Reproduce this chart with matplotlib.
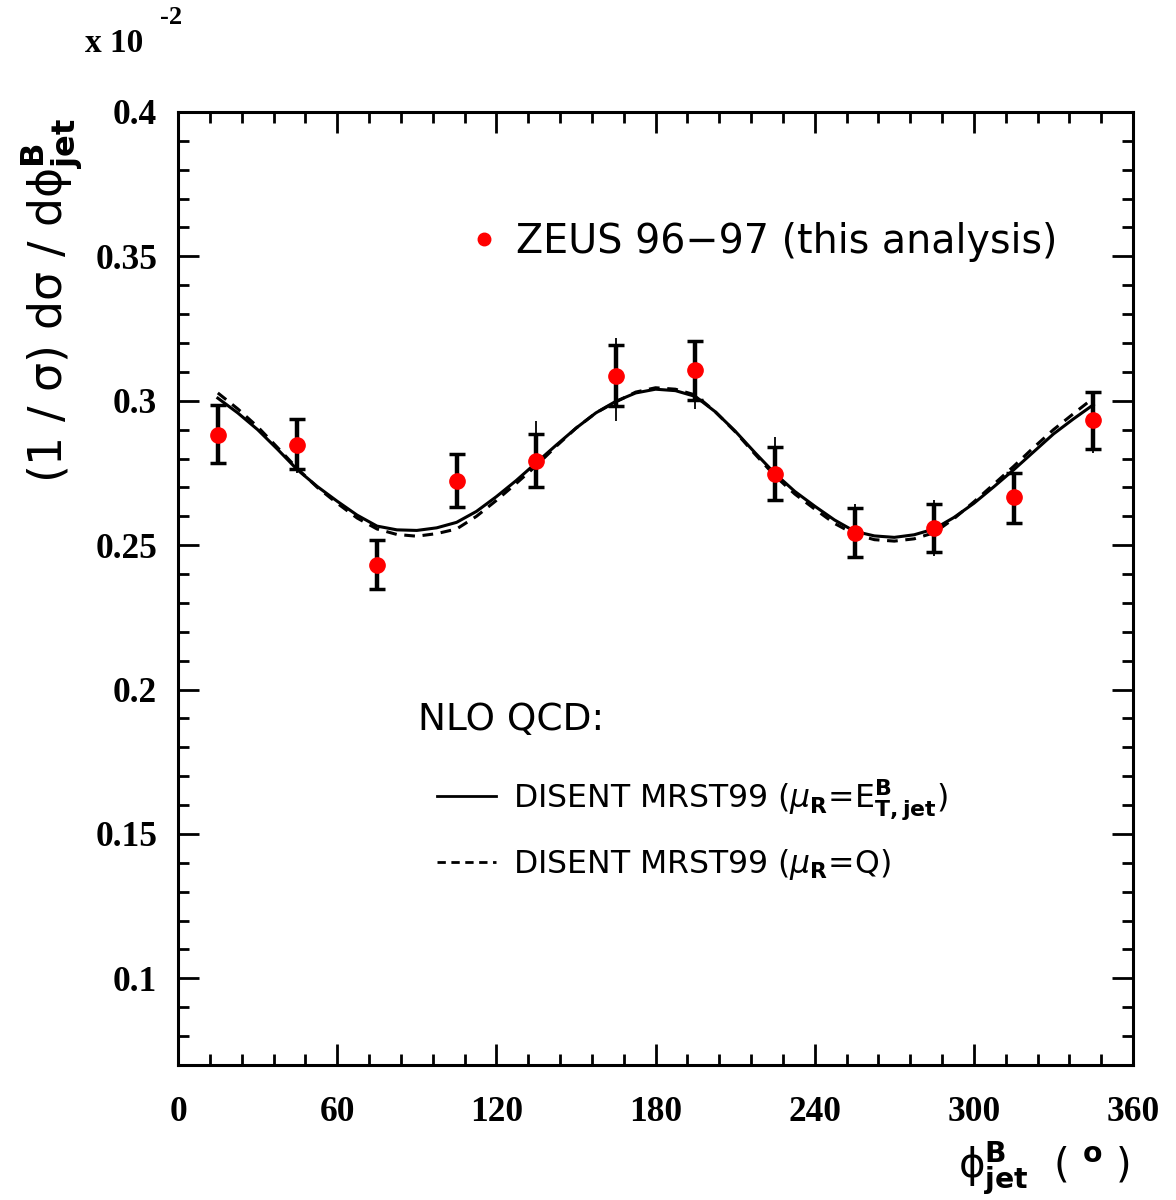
import numpy as np
import matplotlib
matplotlib.use("Agg")
import matplotlib.pyplot as plt
from matplotlib.lines import Line2D
from matplotlib.ticker import MultipleLocator, FormatStrFormatter

# ZEUS 96-97 data points (x 10^-2)
phi_data = [15, 45, 75, 105, 135, 165, 195, 225, 255, 285, 315, 345]
xsec = [0.2882, 0.2848, 0.2433, 0.2723, 0.2793, 0.3086,
        0.3107, 0.2748, 0.2543, 0.2561, 0.2668, 0.2934]
stat_up = [0.0104, 0.0090, 0.0086, 0.0092, 0.0093, 0.0107,
           0.0100, 0.0093, 0.0086, 0.0083, 0.0083, 0.0097]
stat_dn = [0.0097, 0.0086, 0.0086, 0.0092, 0.0090, 0.0104,
           0.0104, 0.0093, 0.0083, 0.0086, 0.0090, 0.0100]
tot_up = [0.0104, 0.0090, 0.0086, 0.0092, 0.0138, 0.0131,
          0.0100, 0.0128, 0.0100, 0.0097, 0.0083, 0.0097]
tot_dn = [0.0097, 0.0097, 0.0086, 0.0092, 0.0090, 0.0156,
          0.0135, 0.0093, 0.0083, 0.0100, 0.0090, 0.0114]

# NLO QCD (DISENT MRST99), read every 7.5 degrees
phi_nlo = [15, 22.5, 30, 37.5, 45, 52.5, 60, 67.5, 75, 82.5, 90, 97.5,
           105, 112.5, 120, 127.5, 135, 142.5, 150, 157.5, 165, 172.5, 180,
           187.5, 195, 202.5, 210, 217.5, 225, 232.5, 240, 247.5, 255, 262.5,
           270, 277.5, 285, 292.5, 300, 307.5, 315, 322.5, 330, 337.5, 345]
nlo_et = [0.3009, 0.2958, 0.2900, 0.2832, 0.2761, 0.2703, 0.2652, 0.2604,
          0.2566, 0.2553, 0.2551, 0.2560, 0.2579, 0.2617, 0.2668, 0.2724,
          0.2785, 0.2846, 0.2905, 0.2958, 0.2998, 0.3027, 0.3040, 0.3035,
          0.3015, 0.2962, 0.2895, 0.2820, 0.2748, 0.2686, 0.2635, 0.2587,
          0.2548, 0.2532, 0.2527, 0.2536, 0.2556, 0.2596, 0.2645, 0.2702,
          0.2761, 0.2823, 0.2885, 0.2937, 0.2986]
nlo_q = [0.3027, 0.2972, 0.2910, 0.2838, 0.2765, 0.2700, 0.2645, 0.2594,
         0.2556, 0.2537, 0.2531, 0.2540, 0.2556, 0.2600, 0.2655, 0.2714,
         0.2775, 0.2842, 0.2905, 0.2958, 0.2996, 0.3030, 0.3045, 0.3040,
         0.3020, 0.2962, 0.2893, 0.2815, 0.2740, 0.2677, 0.2625, 0.2575,
         0.2538, 0.2519, 0.2514, 0.2522, 0.2543, 0.2592, 0.2650, 0.2711,
         0.2773, 0.2838, 0.2900, 0.2955, 0.3009]

RED = "#FF0000"
SERIF = "Liberation Serif"
SANS = "DejaVu Sans"

fig = plt.figure(figsize=(11.76, 12), dpi=100)
ax = fig.add_axes([0.1514, 0.1125, 0.8121, 0.7942])

# curves
ax.plot(phi_nlo, nlo_et, color="black", lw=2.2, solid_joinstyle="round")
ax.plot(phi_nlo, nlo_q, color="black", lw=2.2, ls=(0, (3.5, 2.5)))

# total errors (thin), stat errors (thick with caps)
ax.errorbar(phi_data, xsec, yerr=[tot_dn, tot_up], fmt="none",
            ecolor="black", elinewidth=1.3, capsize=0, zorder=3)
ax.errorbar(phi_data, xsec, yerr=[stat_dn, stat_up], fmt="none",
            ecolor="black", elinewidth=3.2, capsize=5.5, capthick=2.5, zorder=4)
ax.plot(phi_data, xsec, "o", color=RED, ms=11, mec=RED, zorder=5)

ax.set_xlim(0, 360)
ax.set_ylim(0.07, 0.4)
ax.xaxis.set_major_locator(MultipleLocator(60))
ax.xaxis.set_minor_locator(MultipleLocator(12))
ax.yaxis.set_major_locator(MultipleLocator(0.05))
ax.yaxis.set_minor_locator(MultipleLocator(0.01))
ax.yaxis.set_major_formatter(FormatStrFormatter("%g"))
ax.tick_params(which="both", direction="in", top=True, right=True, width=2)
ax.tick_params(which="major", length=15)
ax.tick_params(which="minor", length=8)
ax.tick_params(axis="y", which="major", pad=15)
ax.tick_params(axis="x", which="major", pad=22)
for s in ax.spines.values():
    s.set_linewidth(2.2)
for lab in ax.get_xticklabels() + ax.get_yticklabels():
    lab.set_fontfamily(SERIF)
    lab.set_fontweight("bold")
    lab.set_fontsize(25.5)

# legends
h_data = Line2D([], [], ls="none", marker="o", color=RED, ms=9)
leg1 = ax.legend([h_data], ["ZEUS 96\u221297 (this analysis)"],
                 loc="center left", bbox_to_anchor=(0.300, 0.8636),
                 frameon=False, borderpad=0, borderaxespad=0,
                 handlelength=1.0, handletextpad=0.3,
                 prop={"family": SANS, "size": 28.5})
ax.add_artist(leg1)

ax.text(0.2513, 0.362, "NLO QCD:", transform=ax.transAxes, ha="left",
        va="center", family=SANS, size=27)
h_et = Line2D([], [], color="black", lw=2)
h_q = Line2D([], [], color="black", lw=2, ls=(0, (3, 2)))
leg2 = ax.legend([h_et, h_q],
                 [r"DISENT MRST99 ($\mu_{\mathbf{R}}$=E$^{\mathbf{B}}_{\mathbf{T,jet}}$)",
                  r"DISENT MRST99 ($\mu_{\mathbf{R}}$=Q)"],
                 loc="center left", bbox_to_anchor=(0.2712, 0.2471),
                 frameon=False, borderpad=0, borderaxespad=0,
                 handlelength=1.88, handletextpad=0.53, labelspacing=0.8,
                 prop={"family": SANS, "size": 22.7})

# axis titles
fig.text(52 / 1176, 1 - 300 / 1200,
         "(1 / \u03c3) d\u03c3 / d\u03d5$^{\\mathbf{B}}_{\\mathbf{jet}}$",
         rotation=90, ha="center", va="center", family=SANS, size=33)
fig.text(1130 / 1176, 1 - 1168 / 1200,
         "\u03d5$^{\\mathbf{B}}_{\\mathbf{jet}}$  ( $^{\\mathbf{o}}$ )",
         ha="right", va="center", family=SANS, size=29)
fig.text(85 / 1176, 1 - 43 / 1200, "x 10", ha="left", va="center",
         family=SERIF, weight="bold", size=24)
fig.text(160 / 1176, 1 - 18 / 1200, "-2", ha="left", va="center",
         family=SERIF, weight="bold", size=19)

fig.savefig("out.png", dpi=100, facecolor="white")
